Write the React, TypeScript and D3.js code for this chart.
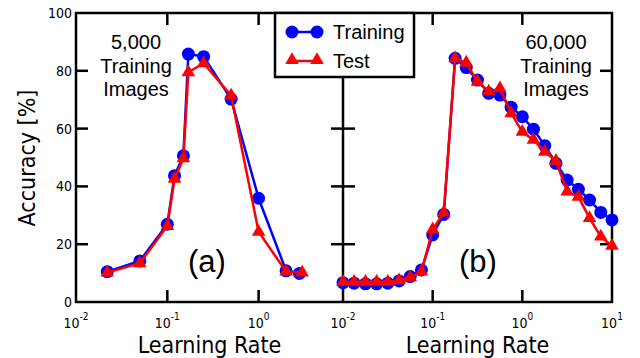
import React from "react";
import * as d3 from "d3";

// panel (a): 5,000 training images
const lrA = [0.022, 0.05, 0.1, 0.12, 0.15, 0.17, 0.25, 0.5, 1.0, 2.0, 2.8];
const lrATest = [0.022, 0.05, 0.1, 0.12, 0.15, 0.17, 0.25, 0.5, 1.0, 2.0, 3.0];
const trainA = [10.5, 14.2, 26.9, 43.7, 50.6, 85.8, 84.9, 70.2, 35.9, 10.8, 9.9];
const testA = [10.2, 13.4, 26.3, 42.6, 49.7, 79.5, 82.6, 71.4, 24.3, 10.5, 10.2];

// panel (b): 60,000 training images
const lrB = [
  0.01, 0.0133, 0.0178, 0.0237, 0.0316, 0.0422, 0.0562, 0.075, 0.1, 0.133, 0.178, 0.237, 0.316,
  0.422, 0.562, 0.75, 1, 1.33, 1.78, 2.37, 3.16, 4.22, 5.62, 7.5, 10,
];
const trainB = [
  6.7, 6.5, 6.3, 6.3, 6.5, 7.3, 8.8, 11.1, 23.2, 30.3, 84.3, 81.1, 76.8, 72.2, 71.6, 67.4, 64.1,
  59.8, 54.1, 48.0, 42.2, 39.0, 35.3, 31.0, 28.4,
];
const testB = [
  7.0, 7.0, 7.0, 7.0, 7.0, 7.5, 8.5, 10.5, 25.1, 30.9, 84.3, 82.8, 76.2, 72.8, 73.9, 65.3, 58.9,
  56.1, 52.0, 48.8, 38.2, 36.4, 29.0, 22.6, 19.4,
];

const yTicks = [0, 20, 40, 60, 80, 100];
const xTicksA = [0.01, 0.1, 1];
const xTicksB = [0.01, 0.1, 1, 10];

const axisFont = "'DejaVu Sans Condensed', 'DejaVu Sans', sans-serif";
const textFont = "'Liberation Sans', Arial, sans-serif";
const BLUE = "#0000ff";
const RED = "#ff0000";

const left = 76, mid = 343, right = 612, top = 13, bottom = 302;
const tickLen = 12;

const App = () => {
  const y = d3.scaleLinear().domain([0, 100]).range([bottom, top]);
  const xA = d3.scaleLog().domain([0.01, 8.4]).range([left, mid]);
  const xB = d3.scaleLog().domain([0.01, 10]).range([mid, right]);

  const circle = d3.symbol().type(d3.symbolCircle).size(Math.PI * 6.5 * 6.5)();
  const tri = d3.symbol().type(d3.symbolTriangle).size(80)();

  const series = (x, xs, ys, color, marker, key) => {
    const pts = xs.map((v, i) => [x(v), y(ys[i])]);
    const line = d3.line()(pts);
    return (
      <g key={key}>
        <path d={line} fill="none" stroke={color} strokeWidth={2.5} />
        {pts.map((p, i) => (
          <path key={i} d={marker} transform={`translate(${p[0]},${p[1]})`} fill={color} />
        ))}
      </g>
    );
  };

  const xLabels = (x, ticks) =>
    ticks.map((t) => (
      <text key={t} x={x(t)} y={328} textAnchor="middle" fontFamily={axisFont} fontSize={14}>
        10
        <tspan fontSize={10} dy={-8}>
          {Math.round(Math.log10(t))}
        </tspan>
      </text>
    ));

  const vTicks = (x, ticks) =>
    ticks.flatMap((t) => [
      <line key={`b${t}`} x1={x(t)} x2={x(t)} y1={bottom} y2={bottom - tickLen} stroke="black" strokeWidth={2.5} />,
      <line key={`t${t}`} x1={x(t)} x2={x(t)} y1={top} y2={top + tickLen} stroke="black" strokeWidth={2.5} />,
    ]);

  const hTicks = yTicks.slice(1, -1).flatMap((t) => [
    <line key={`l${t}`} x1={left} x2={left + tickLen} y1={y(t)} y2={y(t)} stroke="black" strokeWidth={2.5} />,
    <line key={`m${t}`} x1={mid - tickLen} x2={mid + tickLen} y1={y(t)} y2={y(t)} stroke="black" strokeWidth={2.5} />,
    <line key={`r${t}`} x1={right - tickLen} x2={right} y1={y(t)} y2={y(t)} stroke="black" strokeWidth={2.5} />,
  ]);

  return (
    <svg width={640} height={358} style={{ position: "absolute", left: 0, top: 0, background: "white" }}>
      {/* ticks and frame */}
      {vTicks(xA, xTicksA.slice(1))}
      {vTicks(xB, xTicksB.slice(1, -1))}
      {hTicks}
      <rect x={left} y={top} width={right - left} height={bottom - top} fill="none" stroke="black" strokeWidth={2.5} />
      <line x1={mid} x2={mid} y1={top} y2={bottom} stroke="black" strokeWidth={2.5} />

      {/* y tick labels */}
      {yTicks.map((t) => (
        <text key={t} x={72} y={y(t) + 5} textAnchor="end" fontFamily={axisFont} fontSize={14}>
          {t}
        </text>
      ))}
      {xLabels(xA, xTicksA)}
      {xLabels(xB, xTicksB)}

      <text x={(left + mid) / 2} y={353} textAnchor="middle" fontFamily={axisFont} fontSize={23}>
        Learning Rate
      </text>
      <text x={(mid + right) / 2} y={353} textAnchor="middle" fontFamily={axisFont} fontSize={23}>
        Learning Rate
      </text>
      <text transform={`translate(35,158) rotate(-90)`} textAnchor="middle" fontFamily={axisFont} fontSize={23}>
        Accuracy [%]
      </text>

      {/* data */}
      {series(xA, lrA, trainA, BLUE, circle, "ta")}
      {series(xA, lrATest, testA, RED, tri, "sa")}
      {series(xB, lrB, trainB, BLUE, circle, "tb")}
      {series(xB, lrB, testB, RED, tri, "sb")}

      {/* annotations */}
      <g fontFamily={textFont} fontSize={20} textAnchor="middle">
        <text x={136} y={49}>5,000</text>
        <text x={136} y={73}>Training</text>
        <text x={136} y={96}>Images</text>
        <text x={556} y={49}>60,000</text>
        <text x={556} y={73}>Training</text>
        <text x={556} y={96}>Images</text>
      </g>
      <text x={207} y={272} textAnchor="middle" fontFamily={textFont} fontSize={31}>(a)</text>
      <text x={478} y={272} textAnchor="middle" fontFamily={textFont} fontSize={31}>(b)</text>

      {/* legend */}
      <rect x={275} y={top} width={139} height={64} fill="white" stroke="black" strokeWidth={2.5} />
      <line x1={292} x2={317} y1={32} y2={32} stroke={BLUE} strokeWidth={2.5} />
      <path d={circle} transform="translate(292,32)" fill={BLUE} />
      <path d={circle} transform="translate(317,32)" fill={BLUE} />
      <line x1={292} x2={317} y1={61} y2={61} stroke={RED} strokeWidth={2.5} />
      <path d={tri} transform="translate(292,60)" fill={RED} />
      <path d={tri} transform="translate(317,60)" fill={RED} />
      <text x={333} y={39} fontFamily={textFont} fontSize={20}>Training</text>
      <text x={333} y={68} fontFamily={textFont} fontSize={20}>Test</text>
    </svg>
  );
};

export default App;
